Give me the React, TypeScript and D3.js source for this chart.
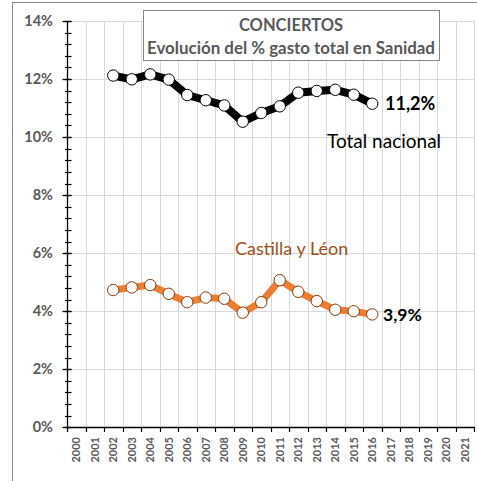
import React from "react";
import * as d3 from "d3";

const years: string[] = d3.range(2000, 2022).map(String);
const dataYears: string[] = d3.range(2002, 2017).map(String);
const totalNacional: number[] = [12.12, 11.99, 12.16, 11.98, 11.45, 11.27, 11.09, 10.53, 10.83, 11.06, 11.53, 11.59, 11.63, 11.46, 11.15];
const castillaLeon: number[] = [4.73, 4.82, 4.9, 4.6, 4.31, 4.47, 4.43, 3.95, 4.31, 5.07, 4.67, 4.35, 4.05, 4.0, 3.89];
const yMajorTicks: number[] = [0, 2, 4, 6, 8, 10, 12, 14];
const yMinorTicks: number[] = d3.range(0, 14.01, 0.4);

const W = 477;
const H = 481;
const FONT = "Lato, 'Open Sans', sans-serif";

export default function App() {
  const x = d3.scaleBand<string>().domain(years).range([67, 474]).padding(0);
  const y = d3.scaleLinear().domain([0, 14]).range([427.3, 21]);
  const cx = (yr: string) => (x(yr) as number) + x.bandwidth() / 2;
  const line = d3
    .line<number>()
    .x((_, i) => cx(dataYears[i]))
    .y((d) => y(d));
  const boundaries = years.map((yr) => x(yr) as number).concat([474]);
  const gray = "#595959";
  const last = dataYears.length - 1;

  return (
    <div style={{ position: "absolute", left: 0, top: 0 }}>
      <svg width={W} height={H} style={{ display: "block", background: "#fff" }}>
        <rect x={12.5} y={2.5} width={480} height={500} fill="#fff" stroke="#868686" strokeWidth={1} />
        {/* gridlines */}
        {yMajorTicks.slice(1).map((t) => (
          <line key={"hg" + t} x1={67} x2={474} y1={Math.round(y(t)) + 0.5} y2={Math.round(y(t)) + 0.5} stroke="#d9d9d9" />
        ))}
        {boundaries.slice(1).map((b, i) => (
          <line key={"vg" + i} x1={Math.round(b) + 0.5} x2={Math.round(b) + 0.5} y1={y(14)} y2={y(0)} stroke="#d9d9d9" />
        ))}
        {/* y axis */}
        <line x1={67.5} x2={67.5} y1={y(14)} y2={y(0)} stroke="#000" strokeWidth={1.3} />
        {yMinorTicks.map((t, i) => (
          <line key={"ym" + i} x1={65} x2={71.5} y1={Math.round(y(t)) + 0.5} y2={Math.round(y(t)) + 0.5} stroke="#000" strokeWidth={1.2} />
        ))}
        {yMajorTicks.map((t) => (
          <line key={"yM" + t} x1={62.5} x2={71.5} y1={Math.round(y(t)) + 0.5} y2={Math.round(y(t)) + 0.5} stroke="#000" strokeWidth={1.3} />
        ))}
        {yMajorTicks.map((t) => (
          <text key={"yl" + t} x={53} y={y(t)} dy="0.35em" textAnchor="end" fontFamily={FONT} fontWeight="bold" fontSize={14.5} fill={gray}>
            {t + "%"}
          </text>
        ))}
        {/* x axis */}
        <line x1={67} x2={475} y1={427.5} y2={427.5} stroke="#000" strokeWidth={1.3} />
        {boundaries.map((b, i) => (
          <line key={"xt" + i} x1={Math.round(b) + 0.5} x2={Math.round(b) + 0.5} y1={427} y2={432} stroke="#000" strokeWidth={1.2} />
        ))}
        {years.map((yr) => (
          <text
            key={"xl" + yr}
            transform={`translate(${cx(yr)},437) rotate(-90)`}
            textAnchor="end"
            dy="0.35em"
            fontFamily={FONT}
            fontWeight="bold"
            fontSize={11}
            fill={gray}
          >
            {yr}
          </text>
        ))}
        {/* title box */}
        <rect x={143.5} y={10.5} width={296} height={50} fill="#fff" stroke="#868686" strokeWidth={1} />
        <text x={291} y={31} textAnchor="middle" fontFamily={FONT} fontWeight="bold" fontSize={16.5} fill={gray}>
          CONCIERTOS
        </text>
        <text x={291} y={54} textAnchor="middle" fontFamily={FONT} fontWeight="bold" fontSize={16.9} fill={gray}>
          Evolución del % gasto total en Sanidad
        </text>
        {/* series */}
        <path d={line(totalNacional) as string} fill="none" stroke="#000" strokeWidth={8} strokeLinejoin="round" />
        {totalNacional.map((v, i) => (
          <circle key={"tn" + i} cx={cx(dataYears[i])} cy={y(v)} r={5.7} fill="#fff" stroke="#000" strokeWidth={1} />
        ))}
        <path d={line(castillaLeon) as string} fill="none" stroke="#ED7D31" strokeWidth={7} strokeLinejoin="round" />
        {castillaLeon.map((v, i) => (
          <circle key={"cl" + i} cx={cx(dataYears[i])} cy={y(v)} r={5.7} fill="#fff" stroke="#843C0C" strokeWidth={1} />
        ))}
        {/* labels */}
        <text x={385} y={110} fontFamily={FONT} fontWeight="bold" fontSize={18} fill="#000">
          {String(totalNacional[last].toFixed(1)).replace(".", ",") + "%"}
        </text>
        <text x={383} y={321} fontFamily={FONT} fontWeight="bold" fontSize={17.5} fill="#000">
          {String(castillaLeon[last].toFixed(1)).replace(".", ",") + "%"}
        </text>
        <text x={327} y={148} fontFamily={FONT} fontSize={19} fill="#000">
          Total nacional
        </text>
        <text x={235} y={255} fontFamily={FONT} fontSize={18} fill="#A0501C">
          Castilla y Léon
        </text>
      </svg>
    </div>
  );
}
